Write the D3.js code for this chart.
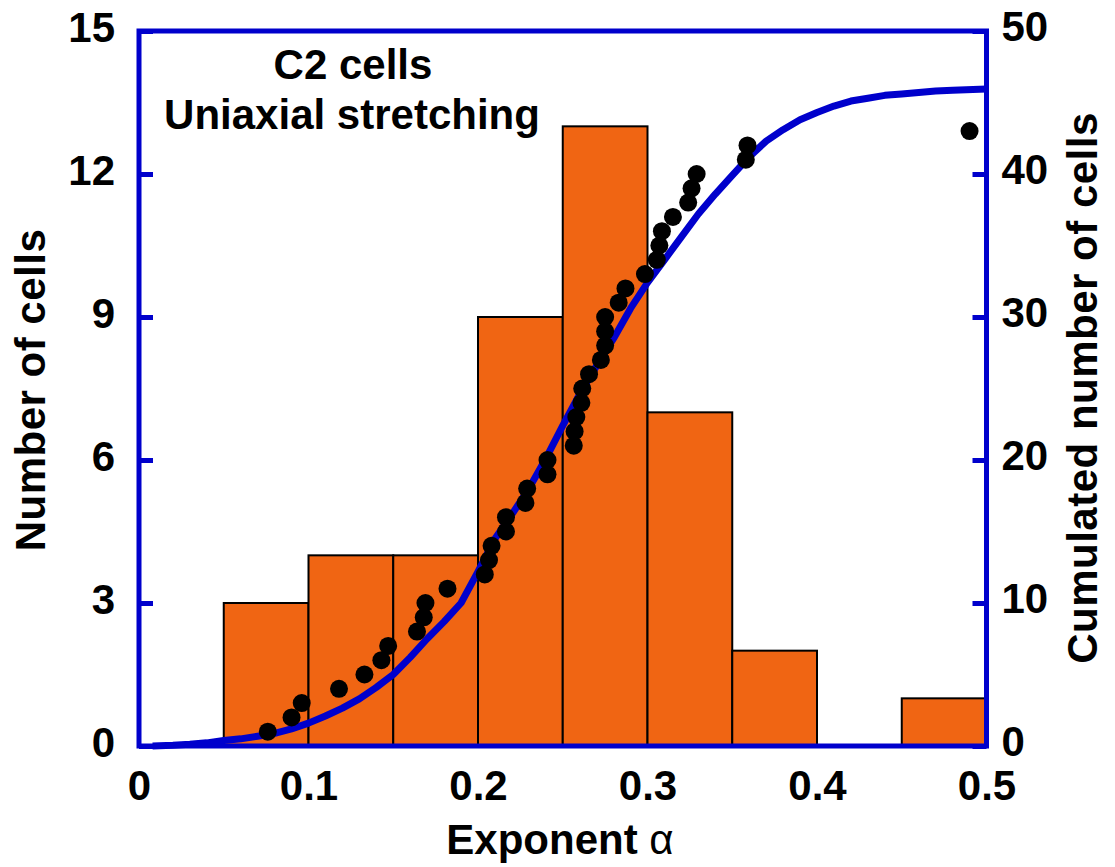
<!DOCTYPE html>
<html>
<head>
<meta charset="utf-8">
<script src="https://cdn.jsdelivr.net/npm/d3@7"></script>
<style>
  html, body { margin: 0; padding: 0; background: #fff; }
  svg { display: block; }
  text { font-family: "Liberation Sans", Arial, Helvetica, sans-serif; font-weight: bold; fill: #000; }
</style>
</head>
<body>
<svg id="chart" width="1115" height="867"></svg>
<script>
// ---------- data ----------
// histogram bins of exponent alpha (left axis: number of cells)
const binStart = [0.05, 0.10, 0.15, 0.20, 0.25, 0.30, 0.35, 0.40, 0.45];
const binEnd   = [0.10, 0.15, 0.20, 0.25, 0.30, 0.35, 0.40, 0.45, 0.50];
const binCount = [3, 4, 4, 9, 13, 7, 2, 0, 1];

// cumulated data points (right axis)
const pointAlpha = [0.076, 0.090, 0.096, 0.118, 0.133, 0.143, 0.147, 0.164, 0.168, 0.169,
                    0.182, 0.204, 0.2065, 0.208, 0.2165, 0.2165, 0.228, 0.229, 0.241, 0.241,
                    0.2565, 0.257, 0.258, 0.261, 0.2615, 0.2655, 0.2725, 0.275, 0.275, 0.275,
                    0.283, 0.287, 0.2985, 0.3055, 0.307, 0.3085, 0.315, 0.324, 0.326, 0.329,
                    0.358, 0.359, 0.490];
const pointCum   = [1, 2, 3, 4, 5, 6, 7, 8, 9, 10,
                    11, 12, 13, 14, 15, 16, 17, 18, 19, 20,
                    21, 22, 23, 24, 25, 26, 27, 28, 29, 30,
                    31, 32, 33, 34, 35, 36, 37, 38, 39, 40,
                    41, 42, 43];

// fitted cumulative curve (right axis)
const curveAlpha = [0.008, 0.02, 0.03, 0.04, 0.05, 0.06, 0.07, 0.08, 0.09, 0.10,
                    0.11, 0.12, 0.13, 0.14, 0.15, 0.16, 0.17, 0.18, 0.19, 0.20,
                    0.21, 0.22, 0.23, 0.24, 0.25, 0.26, 0.27, 0.28, 0.29, 0.30,
                    0.31, 0.32, 0.33, 0.34, 0.35, 0.36, 0.37, 0.38, 0.39, 0.40,
                    0.41, 0.42, 0.43, 0.44, 0.45, 0.46, 0.47, 0.48, 0.50];
const curveCum   = [0.0, 0.05, 0.12, 0.22, 0.38, 0.5, 0.68, 0.88, 1.2, 1.6,
                    2.1, 2.65, 3.3, 4.1, 5.0, 6.2, 7.5, 8.7, 10.0, 12.2,
                    14.5, 16.2, 18.0, 20.1, 22.4, 24.6, 26.6, 28.5, 30.6, 32.4,
                    34.0, 35.6, 37.2, 38.6, 39.9, 41.2, 42.3, 43.1, 43.8, 44.3,
                    44.75, 45.1, 45.3, 45.5, 45.6, 45.7, 45.8, 45.85, 45.95];

const xTicks = [0, 0.1, 0.2, 0.3, 0.4, 0.5];
const xTickLabels = ["0", "0.1", "0.2", "0.3", "0.4", "0.5"];
const yLeftTicks = [0, 3, 6, 9, 12, 15];
const yRightTicks = [0, 10, 20, 30, 40, 50];

// ---------- layout ----------
const svg = d3.select("#chart");
const L = 139, R = 986.5, T = 31, B = 746;
const blue = "#0000cc";
const orange = "#f06513";

const x = d3.scaleLinear().domain([0, 0.5]).range([L, R]);
const yL = d3.scaleLinear().domain([0, 15]).range([B, T]);
const yR = d3.scaleLinear().domain([0, 50]).range([B, T]);

// bars
svg.append("g").selectAll("rect")
  .data(binCount.map((c, i) => ({ s: binStart[i], e: binEnd[i], c })).filter(d => d.c > 0))
  .join("rect")
  .attr("x", d => x(d.s))
  .attr("y", d => yL(d.c))
  .attr("width", d => x(d.e) - x(d.s))
  .attr("height", d => yL(0) - yL(d.c))
  .attr("fill", orange)
  .attr("stroke", "#000")
  .attr("stroke-width", 2);

// curve
const line = d3.line().x(d => x(d[0])).y(d => yR(d[1]));
svg.append("path")
  .datum(curveAlpha.map((a, i) => [a, curveCum[i]]))
  .attr("d", line)
  .attr("fill", "none")
  .attr("stroke", blue)
  .attr("stroke-width", 7)
  .attr("stroke-linejoin", "round")
  .attr("stroke-linecap", "butt");

// points
svg.append("g").selectAll("circle")
  .data(pointAlpha.map((a, i) => [a, pointCum[i]]))
  .join("circle")
  .attr("cx", d => x(d[0]))
  .attr("cy", d => yR(d[1]))
  .attr("r", 9)
  .attr("fill", "#000");

// axes
const fs = 42;
const gL = svg.append("g").attr("transform", `translate(${L},0)`)
  .call(d3.axisLeft(yL).tickValues(yLeftTicks).tickFormat(d3.format("d")).tickSizeInner(-14).tickSizeOuter(0).tickPadding(24));
const gR = svg.append("g").attr("transform", `translate(${R},0)`)
  .call(d3.axisRight(yR).tickValues(yRightTicks).tickFormat(d3.format("d")).tickSizeInner(-14).tickSizeOuter(0).tickPadding(15));
const gB = svg.append("g").attr("transform", `translate(0,${B})`)
  .call(d3.axisBottom(x).tickValues(xTicks).tickFormat((d, i) => xTickLabels[i]).tickSize(0).tickPadding(24));

[gL, gR, gB].forEach(g => {
  g.select(".domain").remove();
  g.selectAll("line").attr("stroke", blue).attr("stroke-width", 5);
  g.selectAll("text").attr("font-size", fs).attr("font-weight", "bold")
    .attr("font-family", '"Liberation Sans", Arial, sans-serif').attr("fill", "#000");
});
gL.selectAll("text").attr("dy", "0.25em");
gR.selectAll("text").attr("dy", "0.22em");

// frame
svg.append("rect")
  .attr("x", L).attr("y", T).attr("width", R - L).attr("height", B - T)
  .attr("fill", "none").attr("stroke", blue).attr("stroke-width", 5);

// axis titles
svg.append("text")
  .attr("transform", "translate(45,390) rotate(-90)")
  .attr("text-anchor", "middle").attr("font-size", fs).attr("letter-spacing", 0.5)
  .text("Number of cells");
svg.append("text")
  .attr("transform", "translate(1097,388) rotate(-90)")
  .attr("text-anchor", "middle").attr("font-size", fs).attr("letter-spacing", 0.5)
  .text("Cumulated number of cells");
const xt = svg.append("text")
  .attr("x", 560).attr("y", 854)
  .attr("text-anchor", "middle").attr("font-size", fs);
xt.append("tspan").text("Exponent ");
xt.append("tspan").attr("font-weight", "normal").text("α");

// annotation
svg.append("text").attr("x", 353).attr("y", 79).attr("text-anchor", "middle")
  .attr("font-size", fs).text("C2 cells");
svg.append("text").attr("x", 352).attr("y", 129).attr("text-anchor", "middle")
  .attr("font-size", fs).text("Uniaxial stretching");
</script>
</body>
</html>
